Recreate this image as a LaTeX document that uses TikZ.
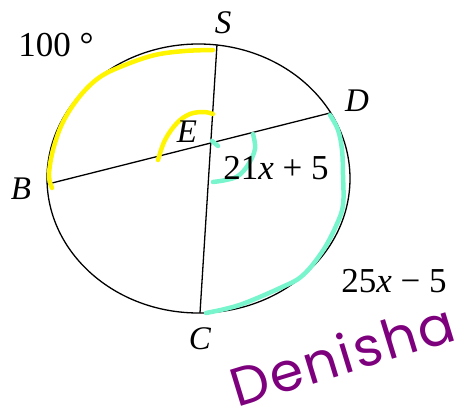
\documentclass[tikz,border=0pt]{standalone}
\usepackage{fontspec}
\setmainfont{Liberation Serif}
\newfontfamily\handfont[LetterSpace=4]{Poppins}
\usetikzlibrary{calc}
\definecolor{hlyellow}{RGB}{255,245,0}
\definecolor{hlcyan}{RGB}{120,245,205}
\definecolor{inkpurple}{RGB}{125,0,125}
\tikzset{
  geom/.style={line width=1.3pt, black},
  hlY/.style={line width=4.5pt, hlyellow, line cap=round, line join=round},
  hlC/.style={line width=4.5pt, hlcyan, line cap=round, line join=round},
  ptlabel/.style={font=\fontsize{33}{36}\selectfont\itshape, inner sep=0pt},
  measure/.style={font=\fontsize{35}{38}\selectfont, inner sep=0pt},
  sign/.style={font=\fontsize{54}{58}\handfont, text=inkpurple, inner sep=0pt}
}
\begin{document}
\begin{tikzpicture}[x=1pt,y=-1pt]
\useasboundingbox (0,0) rectangle (472,412);
% circle
\coordinate (O) at (198.5,178.5);
\draw[geom] (O) ellipse [x radius=151.5, y radius=134.5];
% points on circle
\coordinate (S) at (217,44.5);
\coordinate (D) at (330,113);
\coordinate (B) at (48,184);
\coordinate (C) at (200,313);
\coordinate (E) at (intersection of S--C and B--D);
% chords
\draw[geom] (S) -- (C);
\draw[geom] (B) -- (D);
% yellow highlights
\draw[hlY] plot[smooth, tension=0.6] coordinates {(213,50) (185,51) (155,55) (125,65) (100,77) (80,96) (63,122) (53,150) (49,175) (52,188)};
\draw[hlY] plot[smooth, tension=0.6] coordinates {(158,160) (165,140) (177,123) (190,114) (204,112) (213,114)};
% cyan highlights
\draw[hlC] plot[smooth, tension=0.6] coordinates {(330,115) (338,130) (342,150) (343,175) (343,205) (336,226) (322,252) (302,276) (280,288) (245,303) (225,309) (206,313)};
\draw[hlC] (212,141) -- (218,146);
\draw[hlC] plot[smooth, tension=0.6] coordinates {(253,134) (255,149) (248,165) (238,176) (226,180) (213,182)};
% labels
\node[ptlabel] (lS) at (223,23) {S};
\node[ptlabel] (lD) at (357,101) {D};
\node[ptlabel] (lB) at (21,189) {B};
\node[ptlabel] (lC) at (200,339) {C};
\node[ptlabel] (lE) at (187,132) {E};
\node[measure] (m1) at (56,45) {100 °};
\node[measure] (m2) at (276,168) {21\textit{x} + 5};
\node[measure] (m3) at (394,281) {25\textit{x} − 5};
\node[sign, rotate=17] (sig) at (342,354) {Denisha};
\end{tikzpicture}
\end{document}
